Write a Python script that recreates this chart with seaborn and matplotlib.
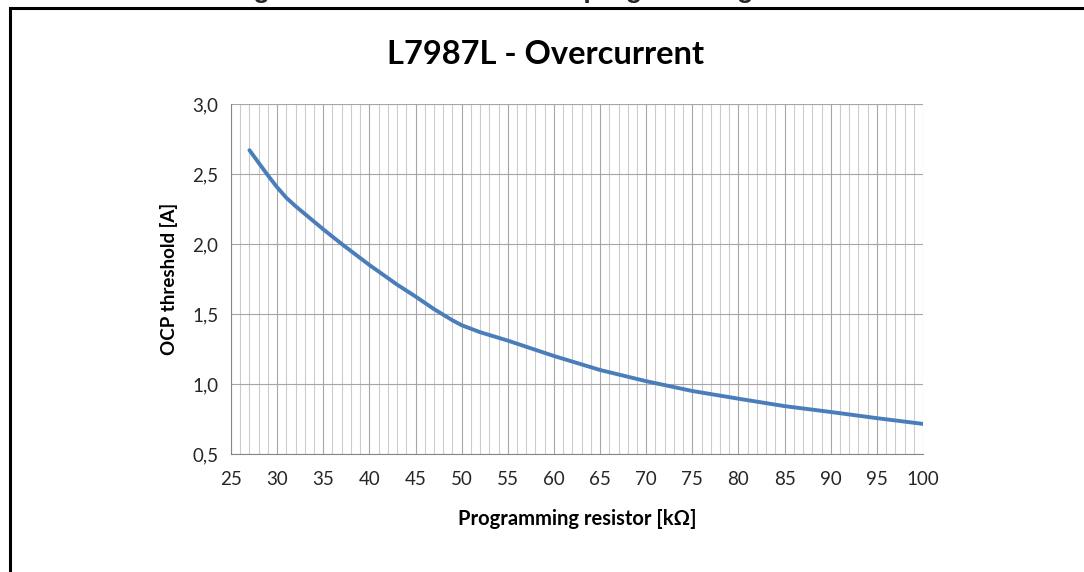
import matplotlib
matplotlib.use("Agg")
import matplotlib.pyplot as plt
import seaborn as sns
from matplotlib.ticker import MultipleLocator
from matplotlib.patches import Rectangle

# values
resistor_kohm = [27, 28, 29, 30, 31, 32, 33, 34, 35, 37, 40, 43, 45, 47, 48,
                 49, 50, 51, 52, 53, 55, 60, 65, 70, 75, 80, 85, 90, 95, 100]
ocp_threshold = [2.67, 2.58, 2.49, 2.405, 2.33, 2.27, 2.215, 2.16, 2.105,
                 2.0, 1.85, 1.71, 1.625, 1.535, 1.495, 1.455, 1.42, 1.395,
                 1.37, 1.35, 1.31, 1.20, 1.10, 1.02, 0.95, 0.895, 0.842,
                 0.80, 0.756, 0.715]
x_ticks = list(range(25, 101, 5))
y_ticks = [0.5, 1.0, 1.5, 2.0, 2.5, 3.0]
y_tick_labels = ["0,5", "1,0", "1,5", "2,0", "2,5", "3,0"]

title = "L7987L - Overcurrent"
caption = "Figure 9. OCP threshold vs. programming resistor"
x_label = "Programming resistor [k\u03a9]"
y_label = "OCP threshold [A]"

sns.set_theme(style="whitegrid")
plt.rcParams['font.family'] = ['Lato', 'DejaVu Sans']

fig = plt.figure(figsize=(10.84, 5.72), dpi=100)
ax = fig.add_axes([231 / 1084, 1 - 454 / 572, 692 / 1084, 350 / 572])

sns.lineplot(x=resistor_kohm, y=ocp_threshold, ax=ax, color='#4a7ebb',
             linewidth=2.8, zorder=5)

ax.set_xlim(25, 100)
ax.set_ylim(0.5, 3.0)
ax.set_xticks(x_ticks)
ax.set_xticklabels([str(t) for t in x_ticks])
ax.set_yticks(y_ticks)
ax.set_yticklabels(y_tick_labels)
ax.xaxis.set_minor_locator(MultipleLocator(1))

ax.grid(which='major', color='#a6a6a6', linewidth=0.8)
ax.grid(which='minor', axis='x', color='#cccccc', linewidth=0.8)
ax.set_axisbelow(True)

ax.tick_params(axis='x', which='major', length=4, width=0.8, color='#868686',
               direction='out', pad=8, labelsize=13.5, labelcolor='#262626')
ax.tick_params(axis='x', which='minor', length=0)
ax.tick_params(axis='y', length=0, pad=9, labelsize=13.5, labelcolor='#262626')

for side in ['top', 'right']:
    ax.spines[side].set_visible(False)
for side in ['left', 'bottom']:
    ax.spines[side].set_color('#868686')
    ax.spines[side].set_linewidth(0.8)

ax.set_xlabel(x_label, fontsize=14.5, fontweight='bold', color='#000000')
ax.set_ylabel(y_label, fontsize=13.5, fontweight='bold', color='#000000')
ax.xaxis.set_label_coords(0.5, -(519 - 454) / 350)
ax.xaxis.label.set_va('center')
ax.yaxis.set_label_coords((169.5 - 231) / 692, 0.5)
ax.yaxis.label.set_va('center')

fig.text(546 / 1084, 1 - 55 / 572, title, ha='center', va='center',
         fontsize=23.5, fontweight='bold', color='#000000')

# caption of the page, cut off by the top edge
fig.text(230 / 1084, 1 + 2 / 572, caption, ha='left', va='baseline',
         fontsize=19, fontweight='bold', family='Liberation Sans')

# frame around the chart, continues past the right and bottom edge
fig.patches.append(Rectangle((9.5 / 1084, -0.2), 1.3, 1.2 - 7.5 / 572,
                             transform=fig.transFigure, fill=False,
                             edgecolor='black', linewidth=2.2))

fig.savefig('out.png', dpi=100)
